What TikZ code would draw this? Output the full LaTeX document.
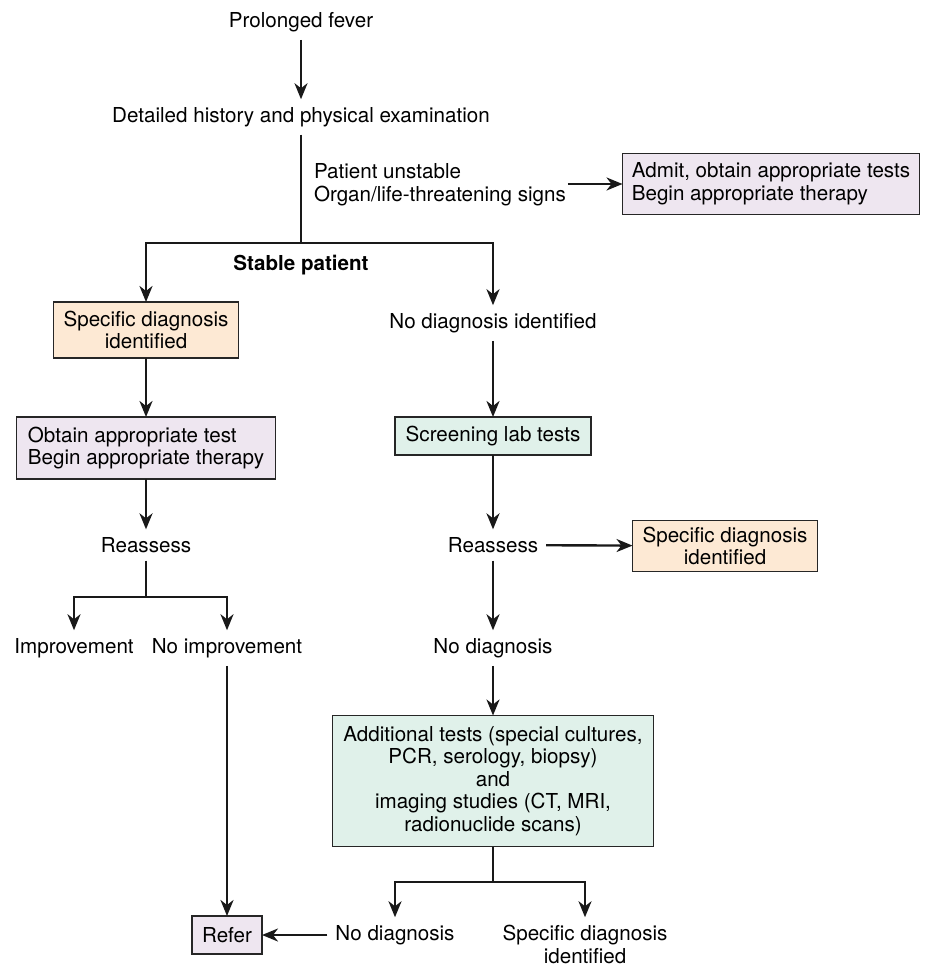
\documentclass[tikz,border=0pt]{standalone}
\usepackage{fontspec}
\setmainfont{TeX Gyre Heros}
\usetikzlibrary{positioning,arrows.meta,calc}
\definecolor{dxorange}{RGB}{253,233,212}
\definecolor{dxlilac}{RGB}{238,230,240}
\definecolor{dxgreen}{RGB}{224,241,234}

\begin{document}
\begin{tikzpicture}[x=0.5pt, y=-0.5pt,
    every node/.style={font=\fontsize{10.3}{11.3}\selectfont},
    lbl/.style={inner sep=0pt, outer sep=4pt, align=center},
    box/.style={rectangle, draw=black!85, line width=0.6pt, inner sep=3pt,
                outer sep=0pt, align=center},
    orangebox/.style={box, fill=dxorange},
    lilacbox/.style={box, fill=dxlilac},
    greenbox/.style={box, fill=dxgreen},
    link/.style={line width=1.2pt, draw=black!90},
    flow/.style={link, -{Stealth[length=8pt, width=6.5pt, inset=2.5pt]}}]
  \useasboundingbox (0,0) rectangle (925,967);
  % top of the chart
  \node[lbl] (fever) at (301,22) {Prolonged fever};
  \node[lbl] (hist)  at (301,117) {Detailed history and physical examination};
  \node[lbl, align=left, anchor=west, outer sep=1pt] (unst) at (312,185)
       {Patient unstable\\Organ/life-threatening signs};
  \node[lilacbox, align=left, minimum width=148.5pt, minimum height=30.5pt] (admit) at (771,184)
       {Admit, obtain appropriate tests\\Begin appropriate therapy};
  \node[lbl, font=\fontsize{10.3}{11.3}\selectfont\bfseries] (stable) at (301,265) {Stable patient};
  \coordinate (br1) at (301,243);
  % left branch
  \node[orangebox, minimum width=92.5pt, minimum height=28pt] (spec1) at (146,330)
       {Specific diagnosis\\identified};
  \node[lilacbox, align=left, minimum width=129.5pt, minimum height=31pt] (obtain) at (146,448)
       {Obtain appropriate test\\Begin appropriate therapy};
  \node[lbl] (reass1) at (146,545) {Reassess};
  \coordinate (br2) at (146,597);
  \node[lbl] (impr)   at (74,648)  {Improvement};
  \node[lbl] (noimpr) at (227,648) {No improvement};
  \node[lilacbox, minimum width=35pt, minimum height=19pt] (refer) at (227,935) {Refer};
  % right branch
  \node[lbl] (nodiag1) at (493,323) {No diagnosis identified};
  \node[greenbox, minimum width=98pt, minimum height=19pt] (screen) at (493,436)
       {Screening lab tests};
  \node[lbl] (reass2) at (493,545) {Reassess};
  \node[orangebox, minimum width=92.5pt, minimum height=25.5pt] (spec2) at (725,546)
       {Specific diagnosis\\identified};
  \node[lbl] (nodiag2) at (493,648) {No diagnosis};
  \node[greenbox, minimum width=160.5pt, minimum height=65.5pt] (addl) at (493,781)
       {Additional tests (special cultures,\\PCR, serology, biopsy)\\and\\imaging studies (CT, MRI,\\radionuclide scans)};
  \coordinate (br3) at (493,882);
  \coordinate (c3) at (585,0);
  \node[lbl] (nodiag3) at (395,935) {No diagnosis};
  \node[lbl, anchor=north] (spec3) at (nodiag3.north -| c3) {Specific diagnosis\\identified};
  % connectors
  \draw[flow] (fever) -- (hist);
  \draw[link] (hist) -- (br1);
  \draw[flow] (unst.east |- admit.west) -- (admit.west);
  \draw[flow] (br1) -| (spec1.north);
  \draw[flow] (br1) -| (nodiag1.north);
  \draw[flow] (spec1) -- (obtain);
  \draw[flow] (obtain) -- (reass1);
  \draw[link] (reass1) -- (br2);
  \draw[flow] (br2) -| (impr.north);
  \draw[flow] (br2) -| (noimpr.north);
  \draw[flow] (noimpr.south) -- (noimpr.south |- refer.north);
  \draw[flow] (nodiag1) -- (screen);
  \draw[flow] (screen) -- (reass2);
  \draw[flow] (reass2) -- (spec2);
  \draw[flow] (reass2) -- (nodiag2);
  \draw[flow] (nodiag2) -- (addl);
  \draw[link] (addl) -- (br3);
  \draw[flow] (br3) -| (nodiag3.north);
  \draw[flow] (br3) -| (spec3.north);
  \draw[flow] (nodiag3) -- (refer);
\end{tikzpicture}
\end{document}
